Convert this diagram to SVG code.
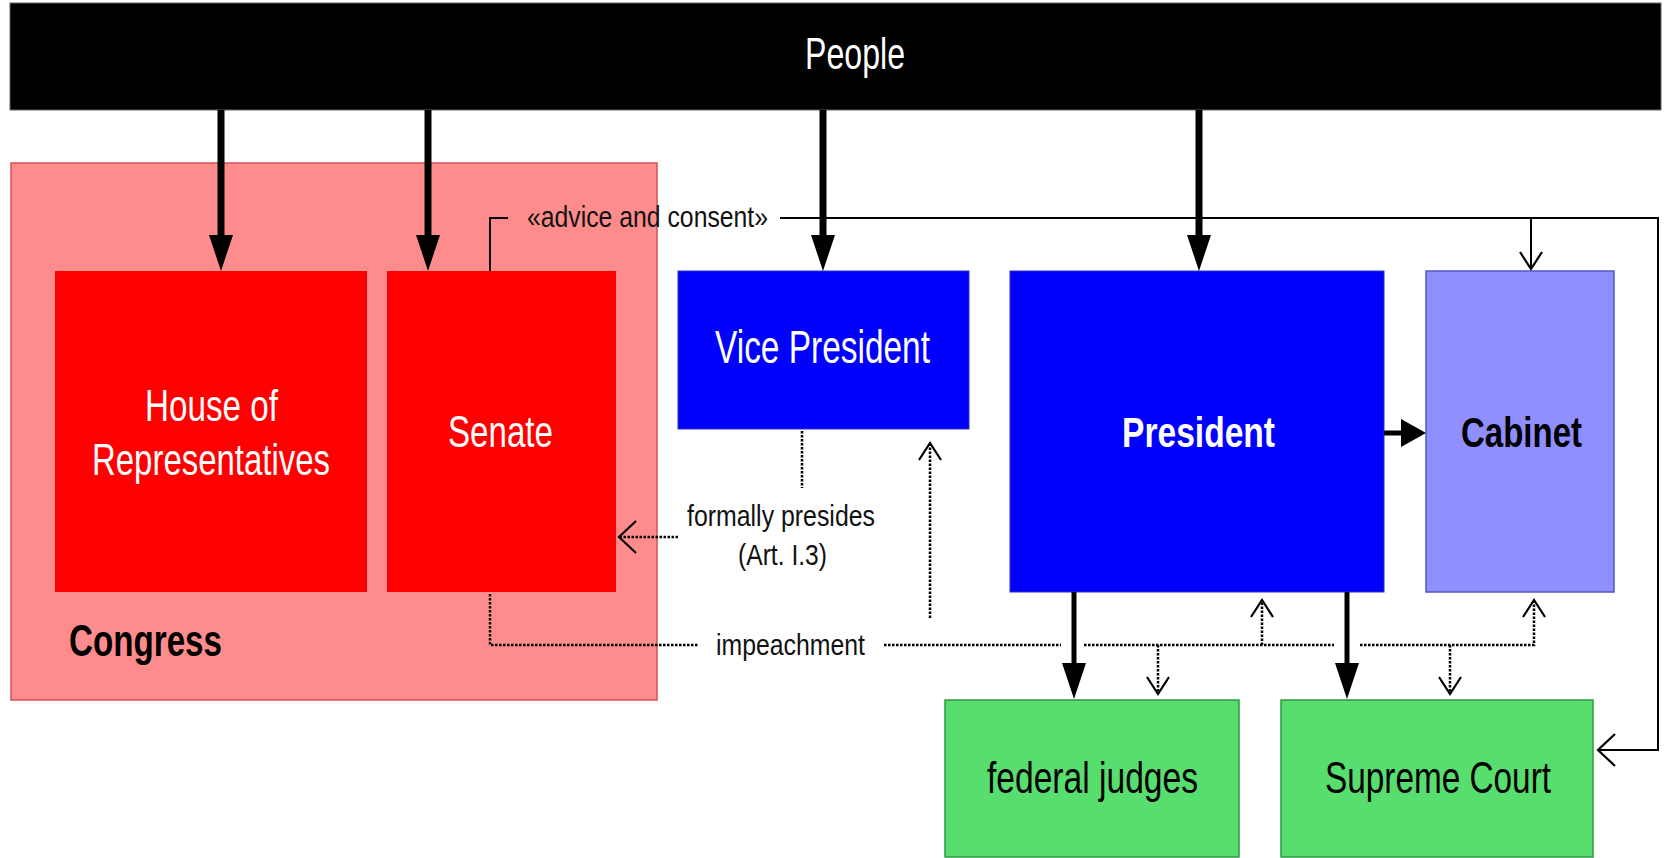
<svg xmlns="http://www.w3.org/2000/svg" width="1665" height="858" viewBox="0 0 1665 858">
  <style>
    text { font-family: "Liberation Sans", Arial, sans-serif; }
    .big { font-size: 44px; }
    .small { font-size: 30px; fill: #111; }
    .white { fill: #ffffff; }
    .black { fill: #000000; }
    .bold { font-weight: bold; }
    .thick { stroke: #000; stroke-width: 7; fill: none; }
    .med { stroke: #000; stroke-width: 5; fill: none; }
    .thin { stroke: #000; stroke-width: 2; fill: none; }
    .dot { stroke: #000; stroke-width: 2.5; stroke-dasharray: 2.5 1.5; fill: none; }
  </style>
  <defs>
    <marker id="fill" markerUnits="userSpaceOnUse" markerWidth="36" markerHeight="24" refX="0" refY="12" orient="auto" overflow="visible">
      <path d="M0,0 L36,12 L0,24 Z" fill="#000"/>
    </marker>
    <marker id="fillS" markerUnits="userSpaceOnUse" markerWidth="25" markerHeight="28" refX="0" refY="14" orient="auto" overflow="visible">
      <path d="M0,0 L25,14 L0,28 Z" fill="#000"/>
    </marker>
    <marker id="open" markerUnits="userSpaceOnUse" markerWidth="18" markerHeight="22" refX="17" refY="11" orient="auto" overflow="visible">
      <path d="M0,0 L17,11 L0,22" fill="none" stroke="#000" stroke-width="2.2"/>
    </marker>
    <marker id="openL" markerUnits="userSpaceOnUse" markerWidth="18" markerHeight="32" refX="17" refY="16" orient="auto" overflow="visible">
      <path d="M0,0 L17,16 L0,32" fill="none" stroke="#000" stroke-width="2.2"/>
    </marker>
  </defs>

  <rect width="1665" height="858" fill="#ffffff"/>

  <g id="people">
    <rect x="10" y="3" width="1651" height="107" fill="#000" stroke="#666" stroke-width="1"/>
    <text class="big white" x="805" y="69" textLength="100" lengthAdjust="spacingAndGlyphs">People</text>
  </g>

  <g id="congress">
    <rect x="11" y="163" width="646" height="537" fill="#ff8c8c" stroke="#d85050" stroke-width="1.5"/>
    <text class="big black bold" x="69" y="656" textLength="153" lengthAdjust="spacingAndGlyphs">Congress</text>
  </g>

  <g id="house">
    <rect x="55" y="271" width="312" height="321" fill="#ff0000"/>
    <text class="big white" x="145" y="421" textLength="133" lengthAdjust="spacingAndGlyphs">House of</text>
    <text class="big white" x="92" y="475" textLength="238" lengthAdjust="spacingAndGlyphs">Representatives</text>
  </g>

  <g id="senate">
    <rect x="387" y="271" width="229" height="321" fill="#ff0000"/>
    <text class="big white" x="448" y="447" textLength="105" lengthAdjust="spacingAndGlyphs">Senate</text>
  </g>

  <g id="vice-president">
    <rect x="678" y="271" width="291" height="158" fill="#0000ff" stroke="#3030c0" stroke-width="1"/>
    <text class="big white" x="715" y="363" textLength="215" lengthAdjust="spacingAndGlyphs" style="font-size:46px">Vice President</text>
  </g>

  <g id="president">
    <rect x="1010" y="271" width="374" height="321" fill="#0000ff" stroke="#3030c0" stroke-width="1"/>
    <text class="big white bold" x="1122" y="447" textLength="153" lengthAdjust="spacingAndGlyphs" style="font-size:42px">President</text>
  </g>

  <g id="cabinet">
    <rect x="1426" y="271" width="188" height="321" fill="#8f8fff" stroke="#5555cc" stroke-width="1.5"/>
    <text class="big black bold" x="1461" y="447" textLength="121" lengthAdjust="spacingAndGlyphs" style="font-size:42px">Cabinet</text>
  </g>

  <g id="federal-judges">
    <rect x="945" y="700" width="294" height="157" fill="#58de6e" stroke="#2f9a45" stroke-width="1.5"/>
    <text class="big black" x="987" y="793" textLength="211" lengthAdjust="spacingAndGlyphs">federal judges</text>
  </g>

  <g id="supreme-court">
    <rect x="1281" y="700" width="312" height="157" fill="#58de6e" stroke="#2f9a45" stroke-width="1.5"/>
    <text class="big black" x="1325" y="793" textLength="226" lengthAdjust="spacingAndGlyphs">Supreme Court</text>
  </g>

  <g id="connectors">
    <!-- People elects -->
    <line class="thick" x1="221" y1="110" x2="221" y2="235" marker-end="url(#fill)"/>
    <line class="thick" x1="428" y1="110" x2="428" y2="235" marker-end="url(#fill)"/>
    <line class="thick" x1="823" y1="110" x2="823" y2="235" marker-end="url(#fill)"/>
    <line class="thick" x1="1199" y1="110" x2="1199" y2="235" marker-end="url(#fill)"/>

    <!-- President appoints -->
    <line class="med" x1="1074" y1="592" x2="1074" y2="663" marker-end="url(#fill)"/>
    <line class="med" x1="1347" y1="592" x2="1347" y2="663" marker-end="url(#fill)"/>
    <line class="med" x1="1384" y1="433" x2="1401" y2="433" marker-end="url(#fillS)"/>

    <!-- advice and consent -->
    <polyline class="thin" points="490,271 490,218 508,218"/>
    <text class="small" x="527" y="227" textLength="241" lengthAdjust="spacingAndGlyphs">«advice and consent»</text>
    <polyline class="thin" points="780,218 1658,218 1658,750 1598,750" marker-end="url(#openL)"/>
    <line class="thin" x1="1531" y1="218" x2="1531" y2="269" marker-end="url(#open)"/>

    <!-- formally presides -->
    <line class="dot" x1="802" y1="431" x2="802" y2="488"/>
    <text class="small" x="687" y="526" textLength="188" lengthAdjust="spacingAndGlyphs">formally presides</text>
    <text class="small" x="738" y="565" textLength="89" lengthAdjust="spacingAndGlyphs">(Art. I.3)</text>
    <line class="dot" x1="678" y1="537" x2="619" y2="537" marker-end="url(#openL)"/>

    <!-- impeachment -->
    <polyline class="dot" points="490,594 490,645 698,645"/>
    <text class="small" x="716" y="655" textLength="149" lengthAdjust="spacingAndGlyphs">impeachment</text>
    <line class="dot" x1="884" y1="645" x2="1061" y2="645"/>
    <line class="dot" x1="1084" y1="645" x2="1334" y2="645"/>
    <polyline class="dot" points="1360,645 1534,645 1534,600" marker-end="url(#open)"/>
    <line class="dot" x1="930" y1="618" x2="930" y2="443" marker-end="url(#open)"/>
    <line class="dot" x1="1262" y1="645" x2="1262" y2="600" marker-end="url(#open)"/>
    <line class="dot" x1="1158" y1="645" x2="1158" y2="694" marker-end="url(#open)"/>
    <line class="dot" x1="1450" y1="645" x2="1450" y2="694" marker-end="url(#open)"/>
  </g>
</svg>
